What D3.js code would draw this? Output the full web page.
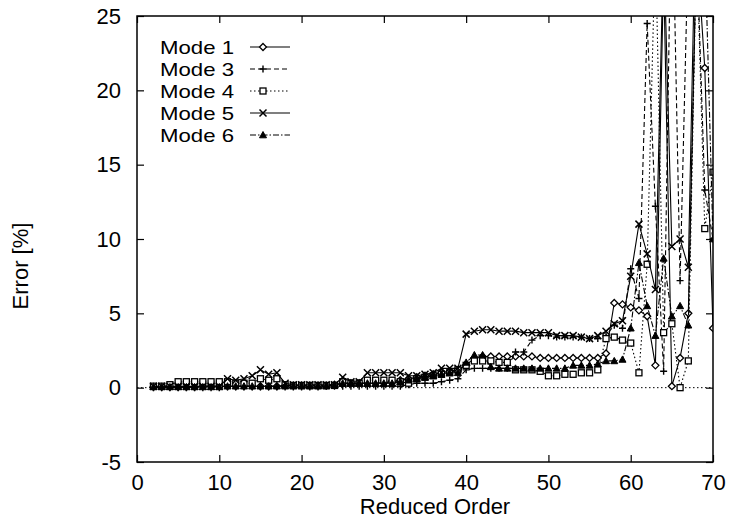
<!DOCTYPE html>
<html>
<head>
<meta charset="utf-8">
<script src="https://cdn.jsdelivr.net/npm/d3@7"></script>
<style>
  html, body { margin: 0; padding: 0; background: #fff; }
  svg text { font-family: "Liberation Sans", Arial, Helvetica, sans-serif; fill: #000; }
</style>
</head>
<body>
<svg id="chart" width="729" height="526"></svg>
<script>
// ---------------- data ----------------
const orders = [2,3,4,5,6,7,8,9,10,11,12,13,14,15,16,17,18,19,20,21,22,23,24,25,26,27,28,29,30,31,32,33,34,35,36,37,38,39,40,41,42,43,44,45,46,47,48,49,50,51,52,53,54,55,56,57,58,59,60,61,62,63,64,65,66,67,68,69,70];

const mode1 = [0.05,0.05,0.05,0.05,0.05,0.05,0.1,0.1,0.1,
  0.1,0.1,0.1,0.1,0.1,0.1,0.1,0.15,0.15,
  0.15,0.15,0.15,0.15,0.2,0.3,0.3,0.3,0.3,0.3,
  0.35,0.4,0.5,0.6,0.7,0.8,0.9,1.0,1.1,
  1.2,1.5,
  2.0,2.1,2.1,2.1,2.1,2.1,2.1,2.1,2.0,2.0,2.0,2.0,2.0,2.0,2.0,2.0,
  2.3,5.7,5.6,5.4,5.2,4.8,1.5,28,0.1,2.0,5.0,30,21.5,4.0];

const mode3 = [0,0,0,0,0,0,0,0,0,
  0.05,0.05,0.05,0.05,0.05,0.05,0.05,0.05,0.05,
  0.05,0.05,0.05,0.1,0.1,0.1,0.1,0.1,0.1,0.1,
  0.1,0.1,0.1,0.2,0.3,0.3,0.3,0.4,0.5,
  0.6,1.2,
  1.3,1.3,1.3,1.3,1.3,2.4,2.4,3.2,3.5,3.5,3.4,3.4,3.4,3.4,3.3,3.3,
  3.5,4.2,4.0,8.0,6.0,24.5,12.2,1.1,35,7.2,30,30,13.3,10.0];

const mode4 = [0.1,0.1,0.2,0.4,0.4,0.4,0.4,0.4,0.4,
  0.4,0.3,0.3,0.3,0.6,0.5,0.6,0.2,0.15,
  0.15,0.15,0.15,0.15,0.15,0.4,0.3,0.3,0.5,0.5,
  0.5,0.5,0.4,0.3,0.6,0.7,0.8,0.9,1.0,
  1.2,1.5,
  1.8,1.8,1.8,1.7,1.7,1.2,1.2,1.2,1.1,0.8,0.8,0.9,0.9,1.0,1.0,1.2,
  3.3,3.4,3.2,3.0,1.0,8.3,30,3.7,4.3,0.0,1.8,30,10.7,14.5];

const mode5 = [0.1,0.1,0.1,0.1,0.1,0.1,0.1,0.1,0.1,
  0.6,0.5,0.6,0.8,1.2,0.9,1.0,0.3,0.2,
  0.2,0.2,0.2,0.2,0.2,0.7,0.4,0.4,1.0,1.0,
  1.0,1.0,1.0,0.8,0.8,0.9,1.0,1.3,1.3,
  1.3,3.6,
  3.8,3.9,3.9,3.8,3.8,3.8,3.7,3.7,3.7,3.7,3.5,3.5,3.5,3.4,3.3,3.5,
  3.8,4.3,4.5,7.5,11.0,9.0,6.6,30,9.5,10.0,8.1,35,30,30];

const mode6 = [0.05,0.05,0.05,0.05,0.05,0.05,0.05,0.05,0.05,
  0.1,0.1,0.1,0.1,0.1,0.1,0.1,0.1,0.1,
  0.1,0.1,0.1,0.1,0.2,0.3,0.3,0.3,0.3,0.3,
  0.3,0.3,0.4,0.5,0.6,0.7,0.8,0.9,1.0,
  1.0,1.7,
  2.2,2.2,1.4,1.3,1.3,1.3,1.3,1.3,1.3,1.3,1.3,1.3,1.5,1.5,1.5,1.6,
  1.8,1.8,1.9,4.0,8.4,5.5,3.5,8.7,4.8,5.5,4.2,30,30,10];

const seriesNames = ["Mode 1","Mode 3","Mode 4","Mode 5","Mode 6"];
const xTicks = [0,10,20,30,40,50,60,70];
const yTicks = [-5,0,5,10,15,20,25];

// ---------------- layout ----------------
const svg = d3.select("#chart");
const L = 137, R = 713, T = 16, B = 462;
const x = d3.scaleLinear().domain([0,70]).range([L,R]);
const y = d3.scaleLinear().domain([-5,25]).range([B,T]);

const styles = [
  {dash: null,        marker: "diamond"},
  {dash: "5,3",       marker: "plus"},
  {dash: "1.5,2.5",   marker: "square"},
  {dash: null,        marker: "cross"},
  {dash: "6,2,1.5,2", marker: "triangle"}
];
const allSeries = [mode1, mode3, mode4, mode5, mode6];

svg.append("defs").append("clipPath").attr("id","plotclip")
  .append("rect").attr("x",L).attr("y",T).attr("width",R-L).attr("height",B-T);

// zero axis (dotted)
svg.append("line")
  .attr("x1",x(0)).attr("x2",x(70)).attr("y1",y(0)).attr("y2",y(0))
  .attr("stroke","#000").attr("stroke-width",1).attr("stroke-dasharray","1.5,2.5");

function drawMarker(g, type, cx, cy) {
  const s = 3.5;
  if (type === "diamond") {
    g.append("path").attr("d",`M${cx},${cy-s}L${cx+s},${cy}L${cx},${cy+s}L${cx-s},${cy}Z`)
      .attr("fill","#fff").attr("stroke","#000").attr("stroke-width",1.3);
  } else if (type === "plus") {
    g.append("path").attr("d",`M${cx-s},${cy}H${cx+s}M${cx},${cy-s}V${cy+s}`)
      .attr("stroke","#000").attr("stroke-width",1.4).attr("fill","none");
  } else if (type === "square") {
    g.append("rect").attr("x",cx-3).attr("y",cy-3).attr("width",6).attr("height",6)
      .attr("fill","#fff").attr("stroke","#000").attr("stroke-width",1.3);
  } else if (type === "cross") {
    g.append("path").attr("d",`M${cx-s},${cy-s}L${cx+s},${cy+s}M${cx-s},${cy+s}L${cx+s},${cy-s}`)
      .attr("stroke","#000").attr("stroke-width",1.5).attr("fill","none");
  } else if (type === "triangle") {
    g.append("path").attr("d",`M${cx},${cy-s}L${cx+s},${cy+s*0.8}L${cx-s},${cy+s*0.8}Z`)
      .attr("fill","#000").attr("stroke","#000").attr("stroke-width",1);
  }
}

const plot = svg.append("g").attr("clip-path","url(#plotclip)");
const line = d3.line().x((d,i)=>x(orders[i])).y(d=>y(d));

allSeries.forEach((vals, k) => {
  const st = styles[k];
  plot.append("path").datum(vals).attr("d", line)
    .attr("fill","none").attr("stroke","#000").attr("stroke-width",1.1)
    .attr("stroke-dasharray", st.dash);
  const mg = plot.append("g");
  vals.forEach((v,i) => {
    if (v <= 25) drawMarker(mg, st.marker, x(orders[i]), y(v));
  });
});

// ---------------- axes ----------------
const fontSize = 22;
const fmt = d => String(d);
const axB = svg.append("g").attr("transform",`translate(0,${B})`)
  .call(d3.axisBottom(x).tickValues(xTicks).tickFormat(fmt).tickSizeInner(-7).tickSizeOuter(0).tickPadding(12));
const axT = svg.append("g").attr("transform",`translate(0,${T})`)
  .call(d3.axisTop(x).tickValues(xTicks).tickSizeInner(-7).tickSizeOuter(0).tickFormat(""));
const axL = svg.append("g").attr("transform",`translate(${L},0)`)
  .call(d3.axisLeft(y).tickValues(yTicks).tickFormat(fmt).tickSizeInner(-7).tickSizeOuter(0).tickPadding(16));
const axR = svg.append("g").attr("transform",`translate(${R},0)`)
  .call(d3.axisRight(y).tickValues(yTicks).tickSizeInner(-7).tickSizeOuter(0).tickFormat(""));
[axB,axT,axL,axR].forEach(a => {
  a.select(".domain").remove();
  a.selectAll("line").attr("stroke","#000").attr("stroke-width",1.2);
  a.selectAll("text").attr("font-size",fontSize)
    .attr("font-family","'Liberation Sans', Arial, sans-serif").attr("fill","#000");
});

// frame
svg.append("rect").attr("x",L).attr("y",T).attr("width",R-L).attr("height",B-T)
  .attr("fill","none").attr("stroke","#000").attr("stroke-width",1.5);

// axis titles
svg.append("text").attr("x",(L+R)/2 + 10).attr("y",514).attr("text-anchor","middle")
  .attr("font-size",fontSize).text("Reduced Order");
svg.append("text").attr("transform",`translate(28,266) rotate(-90)`).attr("text-anchor","middle")
  .attr("font-size",fontSize).text("Error [%]");

// ---------------- legend ----------------
const legY = [47,69,91,113,135];
seriesNames.forEach((name,k) => {
  const st = styles[k];
  svg.append("text").attr("x",160).attr("y",legY[k]).attr("dy","0.35em")
    .attr("font-size",19).attr("textLength",74).attr("lengthAdjust","spacingAndGlyphs").text(name);
  svg.append("line").attr("x1",250).attr("x2",290).attr("y1",legY[k]).attr("y2",legY[k])
    .attr("stroke","#000").attr("stroke-width",1.1).attr("stroke-dasharray",st.dash);
  drawMarker(svg.append("g"), st.marker, 263, legY[k]);
});
</script>
</body>
</html>
